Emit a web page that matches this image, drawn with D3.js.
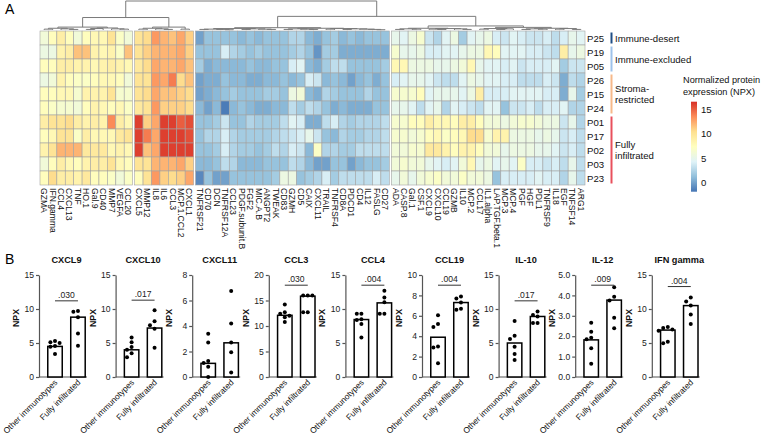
<!DOCTYPE html>
<html><head><meta charset="utf-8">
<script src="https://cdn.jsdelivr.net/npm/d3@7"></script>
<style>body{margin:0;background:#fff}svg text{font-family:"Liberation Sans",Arial,sans-serif}</style>
</head><body><svg id="c" width="764" height="441"></svg>
<script>
// ---------- Panel A data ----------
const patients = ["P25","P19","P05","P26","P15","P24","P01","P17","P02","P03","P23"];
const proteins = ["GZMA","IFN.gamma","CCL4","CXCL13","TNF","HO.1","Gal.9","CD40","MMP7","VEGFA","CCL20",
  "CXCL5","MMP12","IL8","IL6","CCL3","MCP.1.CCL2","CXCL1",
  "TNFRSF21","CD70","DCN","TNFRSF12A","CCL23","PDGF.subunit.B","FGF2","MIC.A.B","ANGPT2","TWEAK","CD83","GZMH","CD5","CAIX","CXCL11","TRAIL","TNFRSF4","CD8A","PDCD1","CD4","IL12","FASLG","CD27",
  "ADA","CASP.8","Gal.1","CSF.1","CXCL9","CXCL10","CCL19","GZMB","IL10","MCP.2","CCL17","IL1.alpha","LAP.TGF.beta.1","MCP.3","MCP.4","PGF","HGF","PDL1","TNFRSF9","IL18","EGF","TNFSF14","ARG1"];
const colClusterSizes = [11, 7, 23, 23];
const npx = [
 [6,7.5,9,7.5,6,7.5,8,8,10,7,6, 10,10.5,13,12,11.5,12.5,11, 0,1.5,1.5,1.5,1.5,1,1.5,1,1.5,1.5,1.5,2.5,2.5,1,0.5,1.5,2,1,1.5,1,1.5,1.5,1.5, 5,4.5,5.5,6.5,3.5,2.5,4.5,5.5,2,4.5,5,5.5,4,3.5,4.5,4,3.5,3.5,4,3,4,5,4.5],
 [5.5,5.5,8.5,9,11.5,11.5,8.5,8,8.5,7,11.5, 10,11,12,12,12,12.5,11, 1.5,1.5,1.5,4,2.5,2,1.5,2,1.5,1.5,1.5,2,2.5,1.5,-0.5,2,2,0.5,0.5,0.5,0.5,0.5,0.5, 6.5,5,5,5.5,4,4,4.5,4.5,5,5.5,5.5,8,7.5,4.5,4.5,4.5,4,4,3.5,3,9,5,5.5],
 [7.5,7.5,9,9,8.5,8.5,8,8.5,9,8.5,8, 9.5,10.5,12.5,12,12,12.5,11.5, 2,0.5,1,1,1,1,1.5,1,1,1.5,1.5,4,4.5,1,0.5,2,3,3,1.5,1.5,1.5,1.5,2, 8,8,5.5,5.5,5.5,5,5,5.5,6,8,5,4.5,4.5,4,4.5,3.5,4,4,4,4.5,2,3.5,3.5],
 [5.5,6,8.5,7.5,7,7,7.5,8,8,7.5,6, 10,10,13,12.5,14,10.5,11.5, 0,0.5,0.5,1.5,1,1,0.5,0.5,1,1,1.5,1,1.5,4,3.5,1,1.5,1,0,1,1.5,0.5,1.5, 4,4.5,5,5,4.5,3.5,3,3,4.5,5.5,5,4.5,4.5,4,4,3,3,3,4,3.5,0.5,3,2.5],
 [7.5,7.5,8,8,6.5,8.5,8.5,8.5,10,6.5,6.5, 10,10.5,12.5,11.5,11.5,11,10.5, 0,0.5,1,1.5,2,1.5,1.5,1.5,2,2,1.5,5.5,6,1,0.5,2.5,2,1.5,1.5,1.5,2.5,1.5,1.5, 6.5,6.5,6.5,7.5,4.5,5,5,5,4.5,5.5,9,4,4,4,4.5,4.5,4.5,4.5,4,4,0.5,5,2],
 [7.5,7,6.5,6.5,6,7.5,8.5,8,7.5,8,7, 9.5,10,13,11,11,11,10.5, 1,0,1,-1.5,1,1.5,1,0.5,0.5,1,1,3,2,3,2.5,1.5,0.5,1,0.5,0.5,0.5,1.5,1.5, 5,5,4.5,3,4.5,5,2.5,4.5,4,3.5,3,4.5,4.5,1.5,3.5,3.5,4,3,4,4,4.5,2.5,2.5],
 [9,10,10,10.5,9,8.5,9,8.5,13.5,9,8, 16,11,12.5,16,16,15,15.5, 1.5,1.5,2,3.5,1.5,1.5,2.5,2,2,2,3,4.5,4,0.5,0.5,3,4,2.5,2,2.5,2.5,2.5,3, 6.5,6.5,7.5,7.5,9,8,8,7.5,9,9,7.5,6,6,5.5,6,6.5,6.5,6,5.5,5.5,3.5,5,2.5],
 [7.5,8,10,10,7,9,8,8,8,9.5,10, 16,14,12.5,16,16,16,15.5, 1.5,2.5,2.5,4,2.5,2,2,2,2,2.5,3,3.5,4,5,3.5,1.5,1,2.5,2,2,2.5,2.5,3, 6.5,6.5,6,6.5,7.5,8,7,7.5,8,10.5,10.5,6.5,8.5,8.5,5.5,5.5,5.5,5,5.5,5,3.5,4,3],
 [8.5,10,12,12,12,9.5,9.5,9.5,8,8.5,8, 16,11.5,12.5,16,16,16,16, 1.5,1.5,2,4,2.5,2,2,1.5,2,3,2.5,4,3.5,1,7,2.5,2.5,2,2,3,3,3,3, 6,6,6.5,6.5,9.5,9.5,8.5,7.5,8.5,8.5,7.5,6,6,5,5.5,5.5,5.5,5,5,4.5,3.5,4,3],
 [6,7.5,9,8,7.5,8.5,9,9,10,8,7.5, 10,10,12,12,12,12.5,11, 1,1,1.5,3,2.5,1,1,1,1.5,1.5,1.5,3,2.5,1,0,0,1.5,1.5,0,1,1.5,1.5,2, 6,6.5,6,6,5,4.5,4,4.5,6,8,5,5.5,4.5,5,4.5,7,4,4,3.5,4,3,5,3],
 [7.5,10.5,9,9,8.5,9.5,7.5,7.5,7,6,7, 7.5,10,13,11,10.5,11,12.5, -1,1.5,0,0,1.5,1.5,1.5,1.5,1.5,2,5.5,5.5,1.5,2,2.5,4,2,3,3,3,3,4,3, 5,6,5,6,6.5,7,6,6,7,6,6,5.5,1.5,4,4,4,4,4.5,4,4,2.5,5,3]
];
// column dendrogram: [height, left, right]; leaves are column indices
const dendroG1 = [10,[6,[3,0,1],[4,2,[2,3,4]]],[7,[5,[2,5,6],7],[4,8,[3,9,10]]]];
const dendroG2 = [10,[6,[3,11,12],[4,13,[2,14,15]]],[3,16,17]];
const dendroG3 = [8,[5,[3,[2,18,19],[2,20,[1,21,22]]],[4,[2,23,24],[3,25,[2,26,27]]]],[6,[4,[2,28,29],[3,30,[2,31,32]]],[5,[3,33,34],[4,[2,35,36],[3,37,[2,38,[1,39,40]]]]]]];
const dendroG4 = [14,[6,[4,[2,41,42],[3,43,44]],[5,[3,45,[2,46,47]],[4,48,[2,49,50]]]],[9,[5,[3,51,52],[4,[2,53,54],55]],[6,[4,[2,56,57],[3,58,59]],[5,[3,60,61],[2,62,63]]]]];
const dendroRoot = [100,[43,dendroG1,dendroG2],[47,dendroG3,dendroG4]];
const rowGroupNames = [["Immune-desert"],["Immune-excluded"],["Stroma-","restricted"],["Fully","infiltrated"]];
const rowGroupSizes = [1,2,3,5];
const legendTicks = [0,5,10,15];
const npxRange = [-1.8, 16.5];

// ---------- Panel B data ----------
const markers = ["CXCL9","CXCL10","CXCL11","CCL3","CCL4","CCL19","IL-10","IL-12","IFN gamma"];
const groupsB = ["Other immunotypes","Fully infiltrated"];
const otherBar = [4.5,4.0,1.07,12.1,8.45,3.9,5.0,1.82,6.9];
const fullyBar = [8.8,7.2,2.68,15.85,10.9,7.3,8.9,3.77,10.5];
const otherDots = [[5.3,5.1,5.0,4.55,4.45,3.4],[5.8,5.1,4.4,4.0,3.5,2.9],[3.4,2.7,1.25,1.1,0.8,0],[14.2,12.7,12.4,12.0,11.7,10.8],[9.3,9.3,8.5,8.4,7.8,5.8],[6.05,5.2,4.9,3.0,2.9,1.35],[8.25,6.05,5.6,4.45,3.4,2.5],[2.66,2.22,1.93,1.85,1.41,0.65],[7.35,7.2,7.0,6.8,5.2,4.95]];
const fullyDots = [[9.7,9.6,8.8,6.4,4.6],[9.8,8.2,7.6,7.1,4.3],[6.75,4.2,2.7,1.95,0.35],[16.0,16.0,16.0,12.7,12.7],[12.7,11.7,11.0,9.3,9.3],[7.9,7.7,7.3,6.7,6.6],[9.65,9.1,8.9,7.95,7.95],[4.4,3.93,3.75,2.9,2.39],[11.7,11.1,10.5,9.2,7.8]];
const yMaxB = [15,15,8,20,15,10,15,5,15];
const yStepB = [5,5,2,5,5,2,5,1,5];
const pText = [".030",".017",null,".030",".004",".004",".017",".009",".004"];
const pLine = [11.2,11.3,null,18,13.5,9,11.2,4.5,13.3];

// ---------- drawing ----------
const svg = d3.select("#c");
const palette = ["#4575B4","#91BFDB","#E0F3F8","#FFFFBF","#FEE090","#FC8D59","#D73027"];
const color = d3.scaleLinear()
  .domain(d3.range(7).map(i => npxRange[0] + i*(npxRange[1]-npxRange[0])/6))
  .range(palette);

const gap = 2;
const clusterOf = [];
colClusterSizes.forEach((n,g) => { for (let k=0;k<n;k++) clusterOf.push(g); });
const colScale = d3.scaleLinear().domain([0, proteins.length]).range([40, 585 - gap*(colClusterSizes.length-1)]);
const cw = colScale(1) - colScale(0);
const colX = i => colScale(i) + clusterOf[i]*gap;
const rowScale = d3.scaleBand().domain(patients).range([31, 185]);

svg.append("text").attr("x",5).attr("y",14).attr("font-size",14).text("A");
svg.append("text").attr("x",5).attr("y",264).attr("font-size",14).text("B");

const hm = svg.append("g");
npx.forEach((row, r) => {
  row.forEach((v, c) => {
    hm.append("rect").attr("x", colX(c)).attr("y", rowScale(patients[r]))
      .attr("width", cw).attr("height", rowScale.bandwidth())
      .attr("fill", color(v)).attr("stroke", "#a3a3a3").attr("stroke-width", 0.6);
  });
});
// column labels
proteins.forEach((p, c) => {
  const x = colX(c) + cw/2;
  svg.append("text").attr("transform", `translate(${x},188) rotate(90)`)
    .attr("font-size", 8.6).attr("dominant-baseline","central").attr("fill","#111").text(p);
});
// row labels
patients.forEach(p => {
  svg.append("text").attr("x", 587).attr("y", rowScale(p) + rowScale.bandwidth()/2)
    .attr("dominant-baseline","central").attr("font-size", 9.6).attr("fill","#111").text(p);
});
// row group annotation bars
const groupColors = ["#1f4e86","#9ec2ea","#f6b98a","#e8505c"];
let startRow = 0;
rowGroupSizes.forEach((n, g) => {
  const y0 = rowScale(patients[startRow]) + 1.5;
  const y1 = rowScale(patients[startRow + n - 1]) + rowScale.bandwidth() - 1.5;
  svg.append("line").attr("x1",611.5).attr("x2",611.5).attr("y1",y0).attr("y2",y1)
    .attr("stroke", groupColors[g]).attr("stroke-width", 2);
  const lines = rowGroupNames[g];
  const mid = (y0 + y1)/2;
  lines.forEach((t, k) => {
    svg.append("text").attr("x", 615).attr("y", mid + (k - (lines.length-1)/2)*11)
      .attr("dominant-baseline","central").attr("font-size", 9.6).attr("fill","#111").text(t);
  });
  startRow += n;
});
// dendrogram
const dy = d3.scaleLinear().domain([0,100]).range([30, 1]);
const dg = svg.append("g").attr("stroke","#7a7a7a").attr("stroke-width",1).attr("fill","none");
function drawNode(node) {
  if (typeof node === "number") return {x: colX(node) + cw/2, h: 0};
  const [h, a, b] = node;
  const A = drawNode(a), B = drawNode(b);
  dg.append("path").attr("d", `M${A.x},${dy(A.h)}V${dy(h)}H${B.x}V${dy(B.h)}`);
  return {x: (A.x + B.x)/2, h};
}
drawNode(dendroRoot);
// legend
svg.append("text").attr("x",683).attr("y",83).attr("font-size",9.2).attr("fill","#111").text("Normalized protein");
svg.append("text").attr("x",683).attr("y",95).attr("font-size",9.2).attr("fill","#111").text("expression (NPX)");
const ly = d3.scaleLinear().domain(npxRange).range([191.7, 101.7]);
const grad = svg.append("defs").append("linearGradient").attr("id","lg").attr("x1",0).attr("x2",0).attr("y1",1).attr("y2",0);
color.domain().forEach((d,i) => grad.append("stop").attr("offset", i/6).attr("stop-color", palette[i]));
svg.append("rect").attr("x",691).attr("y",ly(npxRange[1])).attr("width",6).attr("height",ly(npxRange[0])-ly(npxRange[1])).attr("fill","url(#lg)");
legendTicks.forEach(t => svg.append("text").attr("x",701).attr("y",ly(t)).attr("dominant-baseline","central")
  .attr("font-size",9.6).attr("fill","#111").text(t));

// ---------- Panel B ----------
const axisX0 = 39, axisStep = 76.6;
const yRange = [377, 275];
markers.forEach((m, i) => {
  const ax = axisX0 + i*axisStep;
  const g = svg.append("g");
  const x = d3.scaleBand().domain(groupsB).range([ax, ax + 48]).paddingInner(0.37).paddingOuter(0.23).align(0.83);
  const y = d3.scaleLinear().domain([0, yMaxB[i]]).range(yRange);
  const yAxis = d3.axisLeft(y).tickValues(d3.range(0, yMaxB[i] + 0.001, yStepB[i])).tickSize(3).tickSizeOuter(0).tickPadding(2);
  const ga = g.append("g").attr("transform", `translate(${ax},0)`).call(yAxis);
  ga.selectAll("text").attr("font-size", 8.6).attr("fill","#222");
  ga.selectAll("line,path").attr("stroke","#555").attr("stroke-width",1.2);
  const xAxis = d3.axisBottom(x).tickSize(0).tickSizeOuter(0).tickFormat("");
  const gx = g.append("g").attr("transform", `translate(0,${yRange[0]})`).call(xAxis);
  gx.select("path").attr("stroke","#555").attr("stroke-width",1.2).attr("d", `M${ax},0H${ax+48}`);
  groupsB.forEach(lbl => {
    g.append("text").attr("transform", `translate(${x(lbl)+x.bandwidth()/2+3},${yRange[0]+6}) rotate(-45)`)
      .attr("text-anchor","end").attr("font-size",8.3).attr("fill","#111").text(lbl);
  });
  // bars
  const bars = [otherBar[i], fullyBar[i]];
  bars.forEach((v, k) => {
    g.append("rect").attr("x", x(groupsB[k])).attr("y", y(v)).attr("width", x.bandwidth()).attr("height", y(0) - y(v))
      .attr("fill","#fff").attr("stroke","#000").attr("stroke-width",1.5);
  });
  // dots with simple collision offsets
  [otherDots[i], fullyDots[i]].forEach((vals, k) => {
    const cx = x(groupsB[k]) + x.bandwidth()/2;
    const placed = [];
    const offs = [0, -4.6, 4.6, -9.2, 9.2];
    vals.forEach(v => {
      const cy = y(v);
      let ox = 0;
      for (const o of offs) {
        if (placed.every(p => Math.hypot(p[0]-o, p[1]-cy) >= 4.3)) { ox = o; break; }
      }
      placed.push([ox, cy]);
      g.append("circle").attr("cx", cx + ox).attr("cy", cy).attr("r", 2).attr("fill","#000");
    });
  });
  // title
  const mid = (x(groupsB[0]) + x(groupsB[1]) + x.bandwidth())/2;
  g.append("text").attr("x", mid).attr("y", 263).attr("text-anchor","middle").attr("font-size",9.2)
    .attr("font-weight","bold").attr("fill","#111").text(m);
  // y label
  g.append("text").attr("transform", `translate(${ax-20},318) rotate(-90)`).attr("text-anchor","middle")
    .attr("font-size",8.8).attr("font-weight","bold").attr("fill","#111").text("NPX");
  // significance
  if (pText[i]) {
    const x1 = x(groupsB[0]) + x.bandwidth()/2, x2 = x(groupsB[1]) + x.bandwidth()/2;
    const yl = y(pLine[i]);
    g.append("line").attr("x1",x1).attr("x2",x2).attr("y1",yl).attr("y2",yl).attr("stroke","#333").attr("stroke-width",1);
    g.append("text").attr("x",(x1+x2)/2).attr("y",yl-3).attr("text-anchor","middle").attr("font-size",8.6).attr("fill","#222").text(pText[i]);
  }
});
</script></body></html>
